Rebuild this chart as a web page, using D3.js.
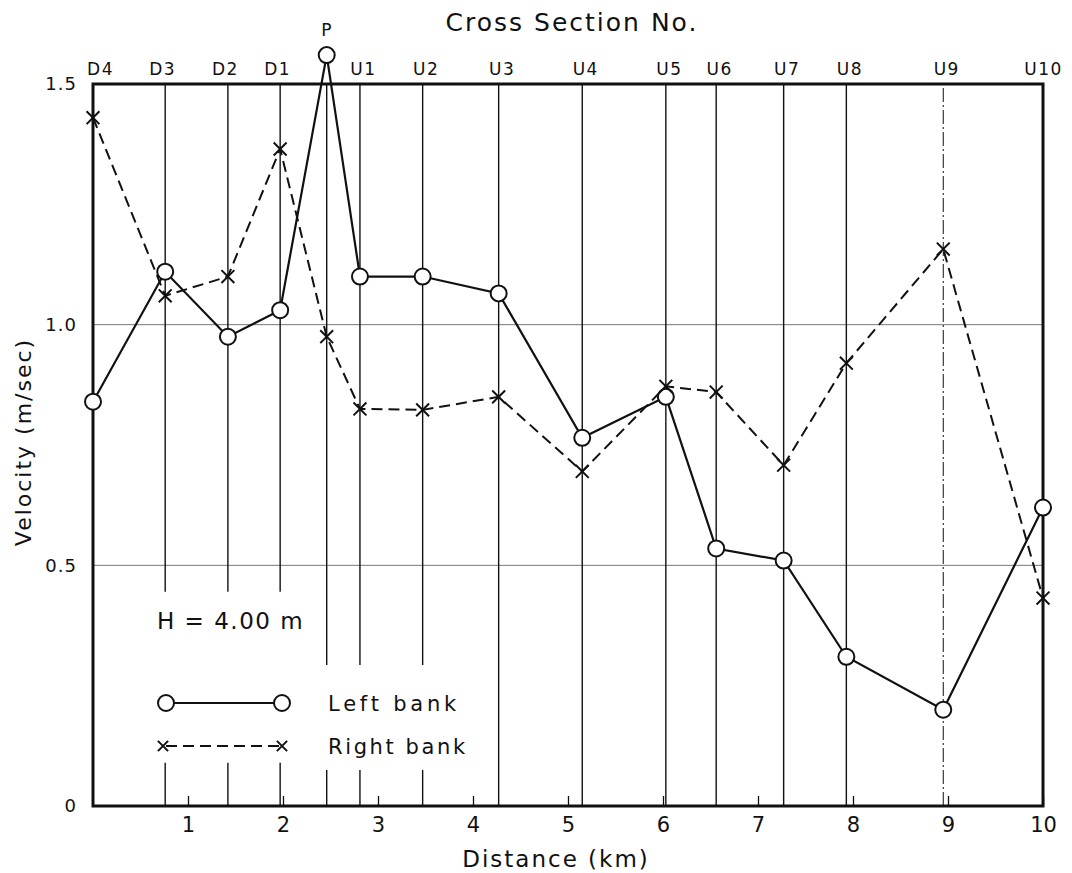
<!DOCTYPE html>
<html>
<head>
<meta charset="utf-8">
<script src="https://cdn.jsdelivr.net/npm/d3@7"></script>
<style>
  html, body { margin: 0; padding: 0; background: #fff; }
  svg { display: block; }
  text { font-family: "DejaVu Sans", "Liberation Sans", sans-serif; fill: #111; }
</style>
</head>
<body>
<svg id="chart" width="1072" height="873"></svg>
<script>
// ---- data ----
const sections   = ["D4","D3","D2","D1","P","U1","U2","U3","U4","U5","U6","U7","U8","U9","U10"];
const sectionKm  = [0, 0.76, 1.42, 1.97, 2.46, 2.81, 3.47, 4.27, 5.15, 6.03, 6.56, 7.27, 7.93, 8.95, 10.0];
const leftBank   = [0.84, 1.11, 0.975, 1.03, 1.56, 1.10, 1.10, 1.065, 0.765, 0.85, 0.535, 0.51, 0.31, 0.20, 0.62];
const rightBank  = [1.43, 1.06, 1.10, 1.365, 0.975, 0.825, 0.823, 0.85, 0.695, 0.872, 0.86, 0.708, 0.92, 1.157, 0.432];
const xTicks     = [1,2,3,4,5,6,7,8,9,10];
const yTicks     = [0, 0.5, 1.0, 1.5];
const yTickLabels= ["0", "0.5", "1.0", "1.5"];
const gridValues = [0.5, 1.0];
const legendNames= ["Left bank", "Right bank"];
const noteText   = "H = 4.00 m";

// ---- layout ----
const svg = d3.select("#chart");
const x = d3.scaleLinear().domain([0, 10]).range([93, 1043]);
const y = d3.scaleLinear().domain([0, 1.5]).range([806, 84]);

// horizontal grid lines
svg.append("g").selectAll("line").data(gridValues).join("line")
  .attr("x1", x(0)).attr("x2", x(10))
  .attr("y1", d => y(d)).attr("y2", d => y(d))
  .attr("stroke", "#777").attr("stroke-width", 1);

// section vertical lines (broken where legend text sits)
const segs = [];
sections.forEach((s, i) => {
  const k = sectionKm[i];
  if (i === 0 || i === sections.length - 1) return;
  let gaps = [];
  if (k < 2.2) gaps = [[0.09, 0.445]];
  else if (k < 3.6) gaps = [[0.075, 0.293]];
  let lo = 0;
  const pieces = [];
  gaps.forEach(g => { pieces.push([lo, g[0]]); lo = g[1]; });
  pieces.push([lo, 1.5]);
  pieces.forEach(p => segs.push({k, a: p[0], b: p[1], name: s}));
});
svg.append("g").selectAll("line").data(segs).join("line")
  .attr("x1", d => x(d.k)).attr("x2", d => x(d.k))
  .attr("y1", d => y(d.a)).attr("y2", d => y(d.b))
  .attr("stroke", "#111")
  .attr("stroke-width", d => d.name === "U9" ? 1 : 1.4)
  .attr("stroke-dasharray", d => d.name === "U9" ? "14,3,2,3" : null);

// frame
svg.append("rect")
  .attr("x", x(0)).attr("y", y(1.5))
  .attr("width", x(10) - x(0)).attr("height", y(0) - y(1.5))
  .attr("fill", "none").attr("stroke", "#111").attr("stroke-width", 3);

// bottom axis (ticks pointing inward)
const xAxis = d3.axisBottom(x).tickValues(xTicks).tickFormat(d3.format("d"))
  .tickSizeInner(-10).tickSizeOuter(0).tickPadding(11);
const gx = svg.append("g").attr("transform", `translate(0,${y(0)})`).call(xAxis);
gx.attr("font-size", 21);
gx.select(".domain").remove();
gx.selectAll(".tick line").attr("stroke", "#111").attr("stroke-width", 1.3);
gx.selectAll(".tick text").attr("fill", "#111");

// left axis
const yAxis = d3.axisLeft(y).tickValues(yTicks)
  .tickFormat((d, i) => yTickLabels[i]).tickSize(0).tickPadding(16);
const gy = svg.append("g").attr("transform", `translate(${x(0)},0)`).call(yAxis);
gy.attr("font-size", 18);
gy.select(".domain").remove();
gy.selectAll(".tick text").attr("fill", "#111").attr("letter-spacing", 1);

// top axis: cross-section names
const topAxis = d3.axisTop(x).tickValues(sectionKm)
  .tickFormat((d, i) => sections[i]).tickSize(0).tickPadding(9);
const gt = svg.append("g").attr("transform", `translate(0,${y(1.5)})`).call(topAxis);
gt.attr("font-size", 17);
gt.select(".domain").remove();
gt.selectAll(".tick text").attr("fill", "#111").attr("letter-spacing", 1.5)
  .attr("y", (d, i) => sections[i] === "P" ? -48 : -9)
  .attr("dx", (d, i) => {
    const s = sections[i];
    if (s === "D4") return 7;
    if (s === "P" || s === "U10") return 0;
    return s.startsWith("U") ? 3 : -3;
  });

// titles
svg.append("text").attr("x", 572).attr("y", 31).attr("text-anchor", "middle")
  .attr("font-size", 25).attr("letter-spacing", 2).text("Cross Section No.");
svg.append("text").attr("x", 556).attr("y", 867).attr("text-anchor", "middle")
  .attr("font-size", 23).attr("letter-spacing", 2).text("Distance (km)");
svg.append("text").attr("transform", "translate(31,442) rotate(-90)").attr("text-anchor", "middle")
  .attr("font-size", 22).attr("letter-spacing", 2).text("Velocity (m/sec)");

// series
const ptsL = sectionKm.map((k, i) => [k, leftBank[i]]);
const ptsR = sectionKm.map((k, i) => [k, rightBank[i]]);
const line = d3.line().x(d => x(d[0])).y(d => y(d[1]));
const R = 8;

svg.append("path").datum(ptsR).attr("d", line)
  .attr("fill", "none").attr("stroke", "#111").attr("stroke-width", 2)
  .attr("stroke-dasharray", "11,6");

svg.append("path").datum(ptsL).attr("d", line)
  .attr("fill", "none").attr("stroke", "#111").attr("stroke-width", 2.2);

svg.append("g").selectAll("circle").data(ptsL).join("circle")
  .attr("cx", d => x(d[0])).attr("cy", d => y(d[1])).attr("r", R)
  .attr("fill", "#fff").attr("stroke", "#111").attr("stroke-width", 2);

const cross = d3.symbol().type(d3.symbolX).size(110);
svg.append("g").selectAll("path").data(ptsR).join("path")
  .attr("transform", d => `translate(${x(d[0])},${y(d[1])})`)
  .attr("d", cross).attr("fill", "none").attr("stroke", "#111").attr("stroke-width", 2);

// note
svg.append("text").attr("x", 157).attr("y", 629).attr("font-size", 23).attr("letter-spacing", 1.5)
  .text(noteText);

// legend
const lg = svg.append("g");
const lx1 = 166, lx2 = 282, ly1 = 703, ly2 = 746;
lg.append("line").attr("x1", lx1).attr("x2", lx2).attr("y1", ly1).attr("y2", ly1)
  .attr("stroke", "#111").attr("stroke-width", 2.2);
[lx1, lx2].forEach(cx => lg.append("circle").attr("cx", cx).attr("cy", ly1).attr("r", R)
  .attr("fill", "#fff").attr("stroke", "#111").attr("stroke-width", 2));
lg.append("line").attr("x1", lx1).attr("x2", lx2).attr("y1", ly2).attr("y2", ly2)
  .attr("stroke", "#111").attr("stroke-width", 2).attr("stroke-dasharray", "11,6");
[lx1 - 3, lx2].forEach(cx => lg.append("path").attr("transform", `translate(${cx},${ly2})`)
  .attr("d", d3.symbol().type(d3.symbolX).size(70)).attr("fill", "none")
  .attr("stroke", "#111").attr("stroke-width", 2));
lg.append("text").attr("x", 328).attr("y", ly1 + 8).attr("font-size", 21).attr("letter-spacing", 3.8).text(legendNames[0]);
lg.append("text").attr("x", 328).attr("y", ly2 + 8).attr("font-size", 21).attr("letter-spacing", 2.6).text(legendNames[1]);
</script>
</body>
</html>
